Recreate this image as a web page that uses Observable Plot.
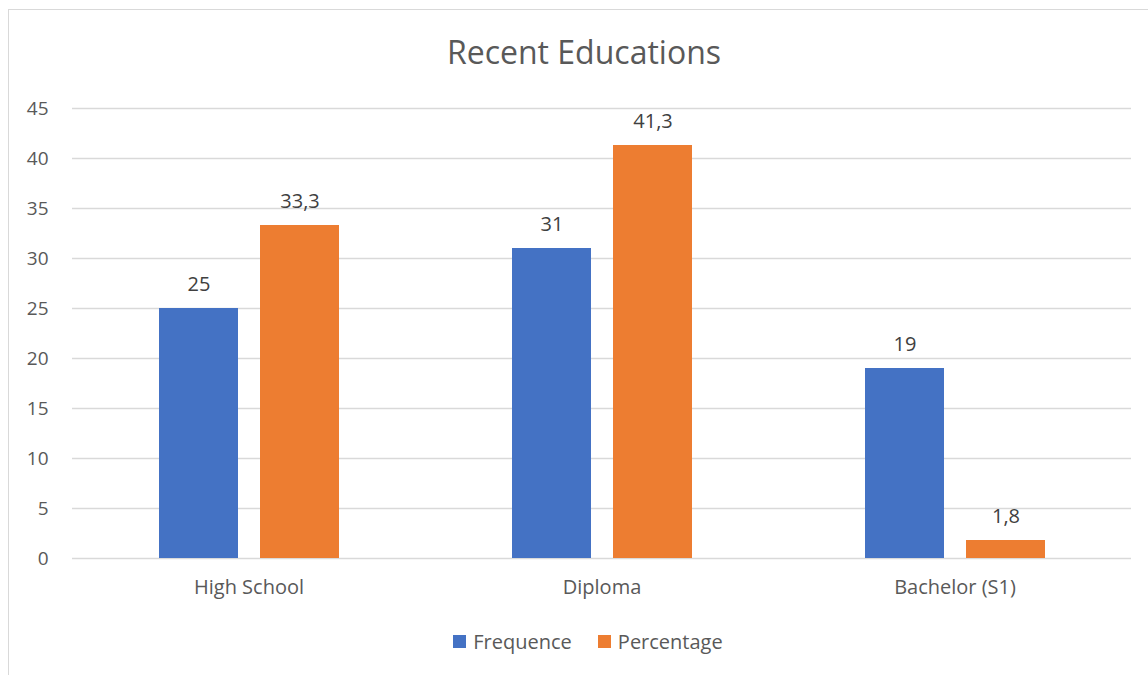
<!DOCTYPE html>
<html>
<head>
<meta charset="utf-8">
<script src="https://cdn.jsdelivr.net/npm/d3@7"></script>
<script src="https://cdn.jsdelivr.net/npm/@observablehq/plot@0.6"></script>
<style>
  html, body { margin: 0; padding: 0; background: #fff; }
  body { width: 1148px; height: 675px; position: relative; overflow: hidden; font-family: "Open Sans", sans-serif; }
  #frame { position: absolute; left: 8px; top: 9px; width: 1145px; height: 680px; border-top: 1.5px solid #d9d9d9; border-left: 1.5px solid #d9d9d9; }
  #title { position: absolute; left: 0; top: 30px; width: 1168px; text-align: center; font-size: 32px; color: #595959; }
  #chart { position: absolute; left: 0; top: 80px; }
  #legend { position: absolute; left: 0; top: 628px; width: 1176px; display: flex; justify-content: center; gap: 26px; font-size: 20px; color: #595959; }
  .item { display: flex; align-items: center; gap: 7px; }
  .sw { width: 13px; height: 13px; display: inline-block; }
</style>
</head>
<body>
<div id="frame"></div>
<div id="title">Recent Educations</div>
<div id="chart"></div>
<div id="legend"></div>
<script>
const categories = ["High School", "Diploma", "Bachelor (S1)"];
const series = ["Frequence", "Percentage"];
const frequence = [25, 31, 19];
const percentage = [33.3, 41.3, 1.8];
const colors = ["#4472C4", "#ED7D31"];
const yTicks = [0, 5, 10, 15, 20, 25, 30, 35, 40, 45];

const data = [];
categories.forEach((c, i) => {
  data.push({category: c, series: series[0], value: frequence[i]});
  data.push({category: c, series: series[1], value: percentage[i]});
});

const chart = Plot.plot({
  width: 1148,
  height: 540,
  marginLeft: 72,
  marginRight: 17,
  marginTop: 28,
  marginBottom: 62,
  style: {fontFamily: "Open Sans, sans-serif", background: "transparent"},
  fx: {domain: categories, padding: 0, label: null, axis: null},
  x: {domain: series, axis: null, paddingInner: 0.218, paddingOuter: 0.856},
  y: {domain: [0, 45], axis: null},
  color: {domain: series, range: colors},
  marks: [
    Plot.ruleY(yTicks, {y: d => d, stroke: "#d9d9d9", strokeWidth: 1.3}),
    Plot.barY(data, {fx: "category", x: "series", y: "value", fill: "series"}),
    Plot.text(data, {fx: "category", x: "series", y: "value", text: d => String(d.value).replace(".", ","), dy: -24, fill: "#404040", fontSize: 20}),
    Plot.axisY(yTicks, {tickSize: 0, tickPadding: 24, fontSize: 19, color: "#595959", label: null}),
    Plot.axisFx({anchor: "bottom", tickSize: 0, tickPadding: 21, fontSize: 20, color: "#595959", label: null})
  ]
});
document.getElementById("chart").appendChild(chart);

const legend = document.getElementById("legend");
series.forEach((s, i) => {
  const item = document.createElement("div");
  item.className = "item";
  const sw = document.createElement("span");
  sw.className = "sw";
  sw.style.background = colors[i];
  const t = document.createElement("span");
  t.textContent = s;
  item.appendChild(sw);
  item.appendChild(t);
  legend.appendChild(item);
});
</script>
</body>
</html>
